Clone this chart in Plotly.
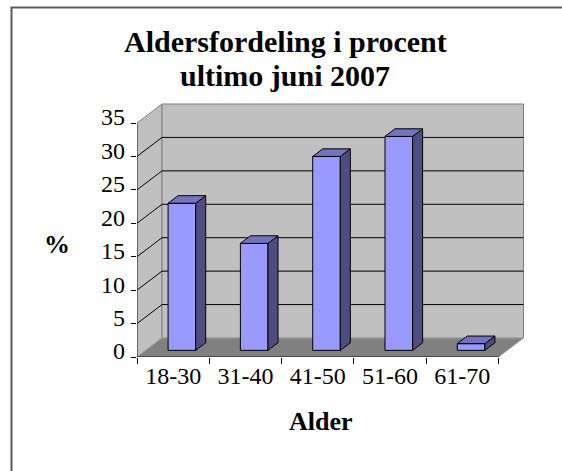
import plotly.graph_objects as go

# ---------------- data ----------------
categories = ["18-30", "31-40", "41-50", "51-60", "61-70"]
values = [22, 16, 29, 32, 1]
y_ticks = [0, 5, 10, 15, 20, 25, 30, 35]
title_lines = ["Aldersfordeling i procent", "ultimo juni 2007"]
x_title = "Alder"
y_title = "%"

# ---------------- geometry / style ----------------
W, H = 562, 471
L, R, T, B = 137, 30, 100, 114
PW, PH = W - L - R, H - T - B
PX_CAT = 72.3            # pixels per category (front plane)
PX_UNIT = 234 / 35       # pixels per value unit
XMIN = -0.5
XMAX = XMIN + PW / PX_CAT
YMIN = 0
YMAX = PH / PX_UNIT
YTOP = 35
DX = 25 / PX_CAT         # depth offset (x) of back wall
DY = 19 / PX_UNIT        # depth offset (y) of back wall
T1, T2 = 0.35, 0.75      # bar front / back depth fraction
BAR_W = 0.382
LABEL_SHIFT = 6 / PX_UNIT

FONT = "Liberation Serif"
WALL = "#C0C0C0"
FLOOR = "#808080"
EDGE = "#808080"
FRONT_C = "#9999FF"
TOP_C = "#7373BF"
SIDE_C = "#4D4D80"

n = len(categories)
x0, x1 = -0.5, n - 0.5


def xp(px):
    return (px - L) / PW


def yp(py):
    return 1 - (py - T) / PH


shapes = []
# left wall
shapes.append(dict(type="path", xref="x", yref="y", layer="below",
                   path=f"M {x0},0 L {x0},{YTOP} L {x0+DX},{YTOP+DY} L {x0+DX},{DY} Z",
                   fillcolor=WALL, line=dict(color=EDGE, width=1)))
# back wall
shapes.append(dict(type="rect", xref="x", yref="y", layer="below",
                   x0=x0 + DX, x1=x1 + DX, y0=DY, y1=YTOP + DY,
                   fillcolor=WALL, line=dict(color=EDGE, width=1)))
# floor
shapes.append(dict(type="path", xref="x", yref="y", layer="below",
                   path=f"M {x0},0 L {x1},0 L {x1+DX},{DY} L {x0+DX},{DY} Z",
                   fillcolor=FLOOR, line=dict(color="#A0A0A0", width=1)))
# gridlines
for v in y_ticks[1:-1]:
    shapes.append(dict(type="line", xref="x", yref="y", layer="below",
                       x0=x0 + DX, x1=x1 + DX, y0=v + DY, y1=v + DY,
                       line=dict(color="black", width=1)))
    shapes.append(dict(type="line", xref="x", yref="y", layer="below",
                       x0=x0, x1=x0 + DX, y0=v, y1=v + DY,
                       line=dict(color="black", width=1)))
# front axis lines
shapes.append(dict(type="line", xref="x", yref="y", x0=x0, x1=x1, y0=0, y1=0,
                   line=dict(color="black", width=1)))
shapes.append(dict(type="line", xref="x", yref="y", x0=x0, x1=x0, y0=0, y1=YTOP,
                   line=dict(color="#303030", width=1)))
# outer frame (left and top edges visible)
shapes.append(dict(type="line", xref="paper", yref="paper",
                   x0=xp(11.5), x1=xp(11.5), y0=yp(7.5), y1=yp(480),
                   line=dict(color="#5A5A5A", width=2)))
shapes.append(dict(type="line", xref="paper", yref="paper",
                   x0=xp(10.5), x1=xp(570), y0=yp(7.5), y1=yp(7.5),
                   line=dict(color="#5A5A5A", width=2)))

fig = go.Figure()

xs = [i + T1 * DX for i in range(n)]
base = T1 * DY
dd = (T2 - T1) * DX
dy2 = (T2 - T1) * DY

fig.add_trace(go.Bar(x=xs, y=values, base=base, width=BAR_W,
                     marker=dict(color=FRONT_C, line=dict(color="black", width=1)),
                     hoverinfo="skip"))

top_x, top_y, side_x, side_y = [], [], [], []
for xc, v in zip(xs, values):
    xl, xr = xc - BAR_W / 2, xc + BAR_W / 2
    top = base + v
    top_x += [xl, xr, xr + dd, xl + dd, xl, None]
    top_y += [top, top, top + dy2, top + dy2, top, None]
    side_x += [xr, xr, xr + dd, xr + dd, xr, None]
    side_y += [base, top, top + dy2, base + dy2, base, None]

fig.add_trace(go.Scatter(x=side_x, y=side_y, mode="lines", fill="toself",
                         fillcolor=SIDE_C, line=dict(color="black", width=1),
                         hoverinfo="skip"))
fig.add_trace(go.Scatter(x=top_x, y=top_y, mode="lines", fill="toself",
                         fillcolor=TOP_C, line=dict(color="black", width=1),
                         hoverinfo="skip"))
# dummy trace to activate overlay axes
fig.add_trace(go.Scatter(x=[0], y=[0], xaxis="x2", yaxis="y2", mode="markers",
                         marker=dict(opacity=0), hoverinfo="skip"))

annotations = [
    dict(text=f"<b>{title_lines[0]}</b>", x=xp(285), y=yp(42), xref="paper", yref="paper",
         showarrow=False, xanchor="center", yanchor="middle",
         font=dict(family=FONT, size=30, color="black")),
    dict(text=f"<b>{title_lines[1]}</b>", x=xp(285), y=yp(76), xref="paper", yref="paper",
         showarrow=False, xanchor="center", yanchor="middle",
         font=dict(family=FONT, size=30, color="black")),
    dict(text=f"<b>{x_title}</b>", x=xp(321), y=yp(421), xref="paper", yref="paper",
         showarrow=False, xanchor="center", yanchor="middle",
         font=dict(family=FONT, size=26, color="black")),
    dict(text=f"<b>{y_title}</b>", x=xp(57), y=yp(244), xref="paper", yref="paper",
         showarrow=False, xanchor="center", yanchor="middle",
         font=dict(family=FONT, size=26, color="black")),
]

fig.update_layout(
    width=W, height=H,
    margin=dict(l=L, r=R, t=T, b=B, pad=0),
    paper_bgcolor="white", plot_bgcolor="rgba(0,0,0,0)",
    showlegend=False,
    font=dict(family=FONT, color="black"),
    shapes=shapes, annotations=annotations,
    xaxis=dict(range=[XMIN, XMAX], tickvals=list(range(n)), ticktext=categories,
               ticks="", showgrid=False, zeroline=False, showline=False,
               ticklabelstandoff=2,
               tickfont=dict(family=FONT, size=24, color="black"), fixedrange=True),
    xaxis2=dict(range=[XMIN, XMAX], overlaying="x", anchor="y", side="bottom",
                tickvals=[i - 0.5 for i in range(n + 1)], ticks="outside", ticklen=6,
                tickcolor="black", showticklabels=False, showgrid=False,
                zeroline=False, showline=False, fixedrange=True),
    yaxis=dict(range=[YMIN, YMAX], tickvals=y_ticks, ticks="outside", ticklen=5,
               tickcolor="black", showticklabels=False, showgrid=False,
               zeroline=False, showline=False, fixedrange=True),
    yaxis2=dict(range=[YMIN - LABEL_SHIFT, YMAX - LABEL_SHIFT], overlaying="y",
                anchor="x", side="left", tickvals=y_ticks, ticks="",
                showgrid=False, zeroline=False, showline=False, ticklabelstandoff=11,
                tickfont=dict(family=FONT, size=24, color="black"), fixedrange=True),
)

fig.write_html("out.html", config={"displayModeBar": False},
               post_script="document.body.style.margin='0';document.body.style.overflow='hidden';")
